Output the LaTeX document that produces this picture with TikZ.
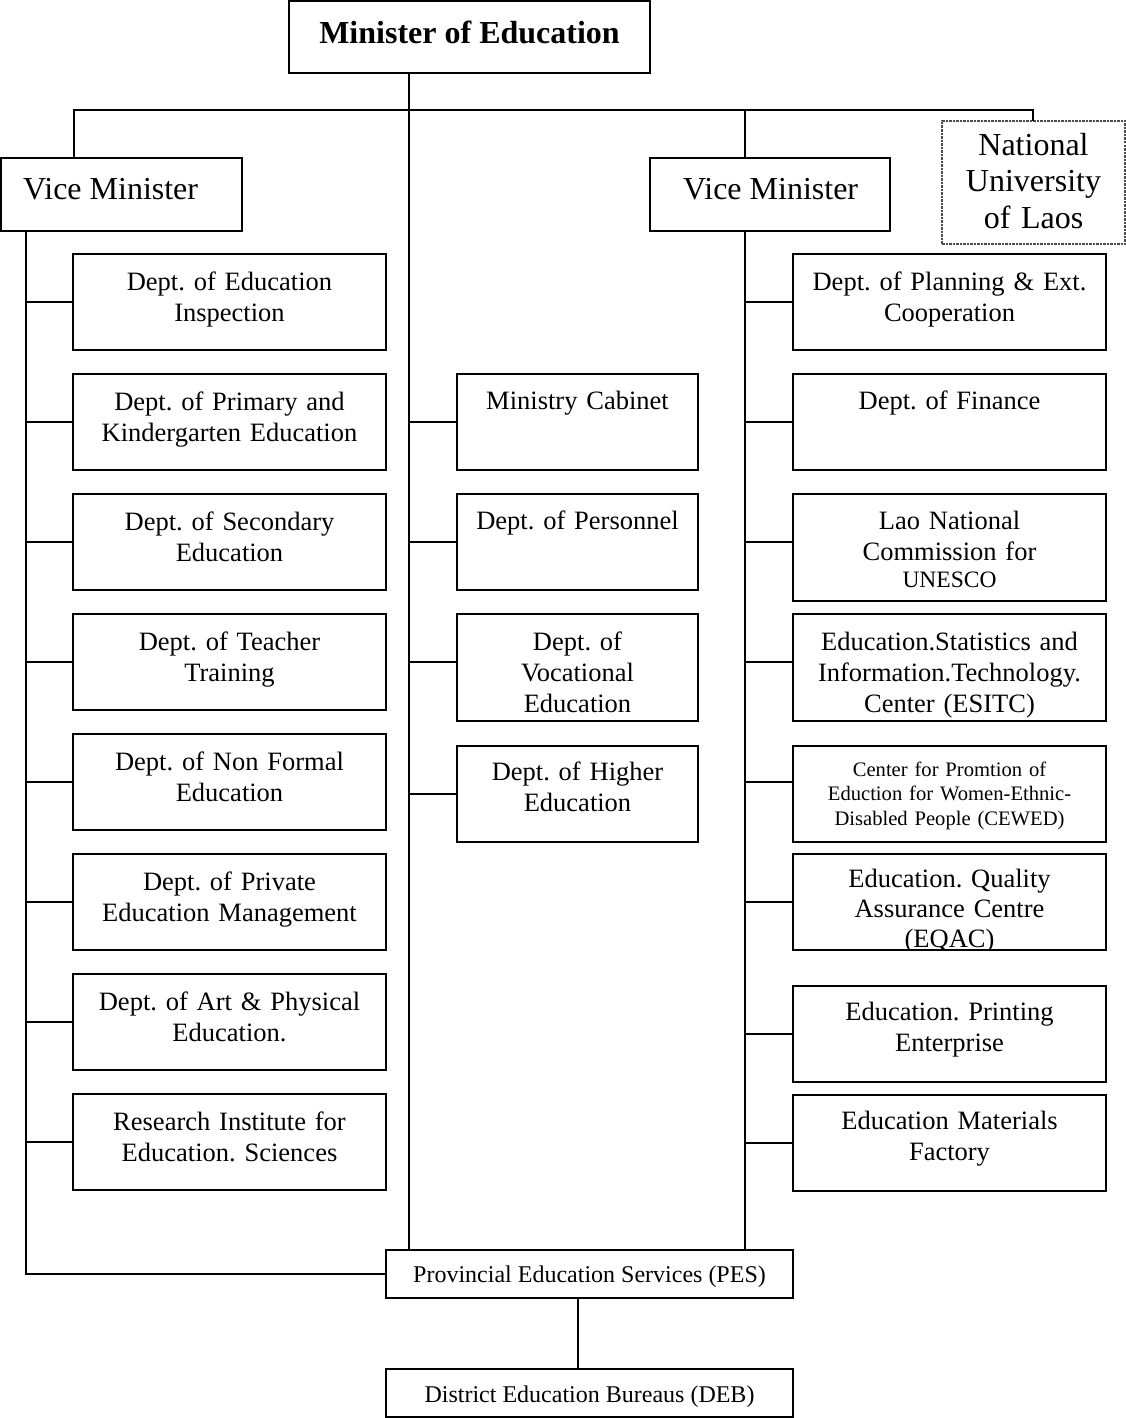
\documentclass[tikz,border=0pt]{standalone}
\usepackage{fontspec}
\setmainfont{Liberation Serif}
\begin{document}
\frenchspacing
\begin{tikzpicture}[x=1pt,y=-1pt,
  box/.style={draw, line width=1.6pt, rectangle, inner sep=0pt, outer sep=0pt, anchor=north west},
  lbox/.style={box, minimum width=313pt, minimum height=96pt},
  mbox/.style={box, minimum width=241pt, minimum height=96pt},
  ln/.style={line width=1.6pt},
  nulbox/.style={box, draw=black!70, line width=1.6pt, dash pattern=on 2.5pt off 1pt},
  txt/.style={inner sep=0pt, align=center, text width=313pt, anchor=base, font=\fontsize{26.5}{31}\selectfont},
  mtxt/.style={txt, text width=241pt},
  big/.style={inner sep=0pt, font=\fontsize{32}{36.5}\selectfont},
  small/.style={inner sep=0pt, anchor=base, font=\fontsize{24}{28}\selectfont}]
\useasboundingbox (0,0) rectangle (1126,1418);

% top level
\node[box, minimum width=361pt, minimum height=72pt] (min) at (289,1) {};
\node[inner sep=0pt, anchor=base, font=\bfseries\fontsize{32}{37}\selectfont] (min-t) at (469.5,44) {Minister of Education};

\node[box, minimum width=241pt, minimum height=73pt] (vm1) at (1,158) {};
\node[big, anchor=base west] (vm1-t) at (23,199) {Vice Minister};
\node[box, minimum width=240pt, minimum height=73pt] (vm2) at (650,158) {};
\node[big, anchor=base west] (vm2-t) at (683,199) {Vice Minister};

\node[nulbox, minimum width=183pt, minimum height=123pt] (nul) at (942,121) {};
\node[big, anchor=base, align=center, text width=183pt] (nul-t) at (1033.5,155) {National\\University\\of Laos};

% left column
\node[lbox] (l1) at (73,254) {};
\node[lbox] (l2) at (73,374) {};
\node[lbox] (l3) at (73,494) {};
\node[lbox] (l4) at (73,614) {};
\node[lbox] (l5) at (73,734) {};
\node[lbox] (l6) at (73,854) {};
\node[lbox] (l7) at (73,974) {};
\node[lbox] (l8) at (73,1094) {};
\node[txt] (l1-t) at ([yshift=-36pt]l1.north) {Dept. of Education\\Inspection};
\node[txt] (l2-t) at ([yshift=-36pt]l2.north) {Dept. of Primary and\\Kindergarten Education};
\node[txt] (l3-t) at ([yshift=-36pt]l3.north) {Dept. of Secondary\\Education};
\node[txt] (l4-t) at ([yshift=-36pt]l4.north) {Dept. of Teacher\\Training};
\node[txt] (l5-t) at ([yshift=-36pt]l5.north) {Dept. of Non Formal\\Education};
\node[txt] (l6-t) at ([yshift=-36pt]l6.north) {Dept. of Private\\Education Management};
\node[txt] (l7-t) at ([yshift=-36pt]l7.north) {Dept. of Art \& Physical\\Education.};
\node[txt] (l8-t) at ([yshift=-36pt]l8.north) {Research Institute for\\Education. Sciences};

% middle column
\node[mbox] (m1) at (457,374) {};
\node[mbox] (m2) at (457,494) {};
\node[mbox, minimum height=107pt] (m3) at (457,614) {};
\node[mbox] (m4) at (457,746) {};
\node[mtxt] (m1-t) at ([yshift=-35pt]m1.north) {Ministry Cabinet};
\node[mtxt] (m2-t) at ([yshift=-35pt]m2.north) {Dept. of Personnel};
\node[mtxt] (m3-t) at ([yshift=-36pt]m3.north) {Dept. of\\Vocational\\Education};
\node[mtxt] (m4-t) at ([yshift=-34pt]m4.north) {Dept. of Higher\\Education};

% right column
\node[lbox] (r1) at (793,254) {};
\node[lbox] (r2) at (793,374) {};
\node[lbox, minimum height=107pt] (r3) at (793,494) {};
\node[lbox, minimum height=107pt] (r4) at (793,614) {};
\node[lbox] (r5) at (793,746) {};
\node[lbox] (r6) at (793,854) {};
\node[lbox] (r7) at (793,986) {};
\node[lbox] (r8) at (793,1095) {};
\node[txt] (r1-t) at ([yshift=-36pt]r1.north) {Dept. of Planning \& Ext.\\Cooperation};
\node[txt] (r2-t) at ([yshift=-35pt]r2.north) {Dept. of Finance};
\node[txt] (r3-t) at ([yshift=-35pt]r3.north) {Lao National\\Commission for\\[-4pt]{\fontsize{23.5}{27}\selectfont UNESCO}};
\begin{scope}
  \clip (r4.north west) rectangle (r4.south east);
  \node[txt] (r4-t) at ([yshift=-36pt]r4.north) {Education.Statistics and\\Information.Technology.\\Center (ESITC)};
\end{scope}
\node[txt, font=\fontsize{20.6}{24.5}\selectfont] (r5-t) at ([yshift=-30pt]r5.north) {Center for Promtion of\\Eduction for Women-Ethnic-\\Disabled People (CEWED)};
\begin{scope}
  \clip (r6.north west) rectangle (r6.south east);
  \node[txt, font=\fontsize{26.5}{30}\selectfont] (r6-t) at ([yshift=-33pt]r6.north) {Education. Quality\\Assurance Centre\\(EQAC)};
\end{scope}
\node[txt] (r7-t) at ([yshift=-34pt]r7.north) {Education. Printing\\Enterprise};
\node[txt] (r8-t) at ([yshift=-34pt]r8.north) {Education Materials\\Factory};

% bottom
\node[box, minimum width=407pt, minimum height=48pt] (pes) at (386,1250) {};
\node[small] (pes-t) at (589.5,1282) {Provincial Education Services (PES)};
\node[box, minimum width=407pt, minimum height=48pt] (deb) at (386,1369) {};
\node[small] (deb-t) at (589.5,1402) {District Education Bureaus (DEB)};

% spine coordinates
\coordinate (barl) at (74,110);
\coordinate (barr) at (1033,110);
\coordinate (xm) at (409,110);
\coordinate (xr) at (745,110);
\coordinate (xl) at (26,0);
\coordinate (xd) at (578,0);

% connectors
\draw[ln] (vm1.north -| barl) -- (barl) -- (barr) -- (nul.north -| barr);
\draw[ln] (min.south -| xm) -- (pes.north -| xm);
\draw[ln] (xr) -- (vm2.north -| xr);
\draw[ln] (vm2.south -| xr) -- (pes.north -| xr);
\draw[ln] (vm1.south -| xl) -- (xl |- pes.west) -- (pes.west);
\draw[ln] (pes.south -| xd) -- (deb.north -| xd);

\foreach \n in {l1,l2,l3,l4,l5,l6,l7,l8}{
  \draw[ln] (xl |- \n.west) -- (\n.west);
}
\foreach \n in {m1,m2,m4}{
  \draw[ln] (xm |- \n.west) -- (\n.west);
}
\draw[ln] ([yshift=5.5pt]m3.west -| xm) -- ([yshift=5.5pt]m3.west);
\foreach \n in {r1,r2,r6,r7,r8}{
  \draw[ln] (xr |- \n.west) -- (\n.west);
}
\draw[ln] ([yshift=5.5pt]r3.west -| xr) -- ([yshift=5.5pt]r3.west);
\draw[ln] ([yshift=5.5pt]r4.west -| xr) -- ([yshift=5.5pt]r4.west);
\draw[ln] ([yshift=12pt]r5.west -| xr) -- ([yshift=12pt]r5.west);
\end{tikzpicture}
\end{document}
